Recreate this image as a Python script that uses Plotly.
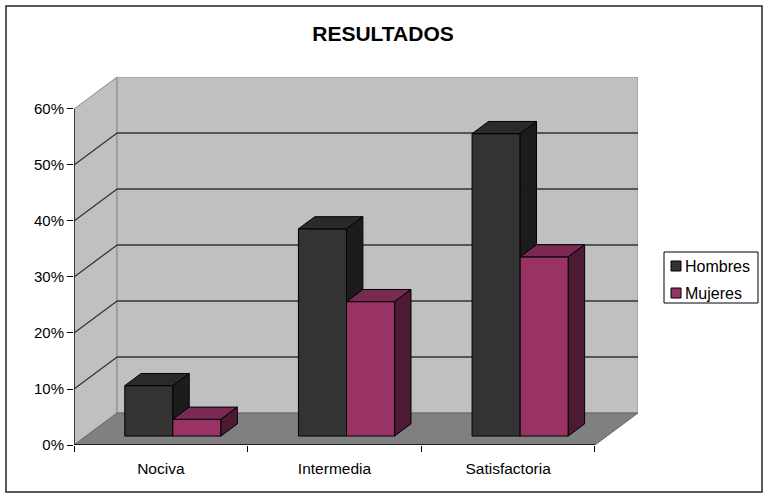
import plotly.graph_objects as go

# Data
categorias = ["Nociva", "Intermedia", "Satisfactoria"]
series = ["Hombres", "Mujeres"]
hombres = [9, 37, 54]
mujeres = [3, 24, 32]
y_ticks = [0, 10, 20, 30, 40, 50, 60]
y_tick_labels = ["0%", "10%", "20%", "30%", "40%", "50%", "60%"]

# Fake 3D (oblique projection) settings, in data units
DX = 0.248     # depth shift along x (category units)
DY = 5.71      # depth shift along y (percent units)
Y_MAX = 60
BAR_W = 0.277
FRONT = 0.28   # bar front plane as fraction of full depth
DEPTH = 0.38   # bar depth as fraction of full depth

# front, top, side colours
colores = {
    "Hombres": ("#333333", "#2a2a2a", "#1c1c1c"),
    "Mujeres": ("#993366", "#7a2952", "#4d1a33"),
}

FONT = "Liberation Sans, Arial, sans-serif"

# plot area in pixels (used to place paper-referenced legend/border)
L, R, T, B = 74, 638, 77, 445


def px(x):
    return (x - L) / (R - L)


def py(y):
    return (B - y) / (B - T)


def path(pts):
    return "M " + " L ".join(f"{x},{y}" for x, y in pts) + " Z"


x0, x1 = -0.5, len(categorias) - 0.5
shapes = []
annotations = []

# side wall, back wall, floor
shapes.append(dict(type="path", layer="below",
                   path=path([(x0, 0), (x0, Y_MAX), (x0 + DX, Y_MAX + DY), (x0 + DX, DY)]),
                   fillcolor="#c0c0c0", line=dict(color="#8c8c8c", width=1)))
shapes.append(dict(type="rect", layer="below", x0=x0 + DX, y0=DY, x1=x1 + DX, y1=Y_MAX + DY,
                   fillcolor="#c0c0c0", line=dict(color="#8c8c8c", width=1)))
shapes.append(dict(type="path", layer="below",
                   path=path([(x0, 0), (x1, 0), (x1 + DX, DY), (x0 + DX, DY)]),
                   fillcolor="#808080", line=dict(color="#666666", width=1)))

# gridlines on back and side wall
for v in y_ticks[1:-1]:
    shapes.append(dict(type="line", layer="below", x0=x0 + DX, y0=v + DY, x1=x1 + DX, y1=v + DY,
                       line=dict(color="#333333", width=1.3)))
    shapes.append(dict(type="line", layer="below", x0=x0, y0=v, x1=x0 + DX, y1=v + DY,
                       line=dict(color="#333333", width=1.3)))

# front axis lines
shapes.append(dict(type="line", layer="below", x0=x0, y0=0, x1=x1, y1=0,
                   line=dict(color="black", width=1.3)))
shapes.append(dict(type="line", layer="below", x0=x0, y0=0, x1=x0, y1=Y_MAX,
                   line=dict(color="black", width=1.3)))

# outer chart border
shapes.append(dict(type="rect", xref="paper", yref="paper",
                   x0=px(6), y0=py(492), x1=px(762), y1=py(6),
                   line=dict(color="#222222", width=1.5)))

# legend box drawn by hand (Excel style)
shapes.append(dict(type="rect", xref="paper", yref="paper",
                   x0=px(664), y0=py(303), x1=px(758), y1=py(252),
                   fillcolor="white", line=dict(color="black", width=1)))
for k, name in enumerate(series):
    cy = 266 + 27 * k
    shapes.append(dict(type="rect", xref="paper", yref="paper",
                       x0=px(671), y0=py(cy + 5), x1=px(681), y1=py(cy - 5),
                       fillcolor=colores[name][0], line=dict(color="black", width=1)))
    annotations.append(dict(xref="paper", yref="paper", x=px(683), y=py(cy),
                            xanchor="left", yanchor="middle", showarrow=False,
                            text=name, font=dict(family=FONT, size=16, color="black")))

fig = go.Figure()

fx, fy = FRONT * DX, FRONT * DY
bx, by = DEPTH * DX, DEPTH * DY
valores = {"Hombres": hombres, "Mujeres": mujeres}

# front faces as real bars
for s, name in enumerate(series):
    front, top, side = colores[name]
    fig.add_trace(go.Bar(
        x=list(range(len(categorias))), y=valores[name], base=fy,
        offset=-BAR_W + s * BAR_W + fx, width=BAR_W, name=name,
        marker=dict(color=front, line=dict(color="black", width=1)),
    ))

# top and side faces
for s, name in enumerate(series):
    front, top, side = colores[name]
    for i, v in enumerate(valores[name]):
        left = i - BAR_W + s * BAR_W + fx
        right = left + BAR_W
        yt = fy + v
        tx = [left, right, right + bx, left + bx, left]
        ty = [yt, yt, yt + by, yt + by, yt]
        fig.add_trace(go.Scatter(x=tx, y=ty, mode="lines", fill="toself",
                                 fillcolor=top, line=dict(color="black", width=1),
                                 showlegend=False, hoverinfo="skip"))
        # only the part of the side face not hidden by the neighbour bar
        yb = fy
        if s == 0:
            yb = fy + min(mujeres[i], v)
        sx = [right, right, right + bx, right + bx, right]
        sy = [yb, yt, yt + by, yb + by, yb]
        fig.add_trace(go.Scatter(x=sx, y=sy, mode="lines", fill="toself",
                                 fillcolor=side, line=dict(color="black", width=1),
                                 showlegend=False, hoverinfo="skip"))

fig.update_layout(
    width=770, height=500,
    margin=dict(l=L, r=770 - R, t=T, b=500 - B),
    paper_bgcolor="white", plot_bgcolor="white",
    barmode="overlay",
    showlegend=False,
    title=dict(text="<b>RESULTADOS</b>", x=383 / 770, xref="container", xanchor="center",
               y=1 - 34 / 500, yref="container", yanchor="middle",
               font=dict(family=FONT, size=21, color="black")),
    font=dict(family=FONT, size=15, color="black"),
    shapes=shapes,
    annotations=annotations,
    xaxis=dict(range=[x0, x1 + DX], showgrid=False, zeroline=False, showline=False,
               tickmode="array", tickvals=list(range(len(categorias))), ticktext=categorias,
               ticks="outside", ticklen=9, tickcolor="rgba(0,0,0,0)",
               minor=dict(tickmode="array", tickvals=[x0 + k for k in range(len(categorias) + 1)],
                          ticks="outside", ticklen=6, tickcolor="black", tickwidth=1),
               tickfont=dict(family=FONT, size=15.5), fixedrange=True),
    yaxis=dict(range=[0, Y_MAX + DY], showgrid=False, zeroline=False, showline=False,
               tickmode="array", tickvals=y_ticks, ticktext=y_tick_labels,
               ticks="outside", ticklen=6, tickcolor="black", tickwidth=1,
               tickfont=dict(family=FONT, size=15), fixedrange=True),
)

fig.write_html("out.html", config={"displayModeBar": False},
               post_script="document.body.style.margin='0';"
                           "document.body.style.overflow='hidden';")
